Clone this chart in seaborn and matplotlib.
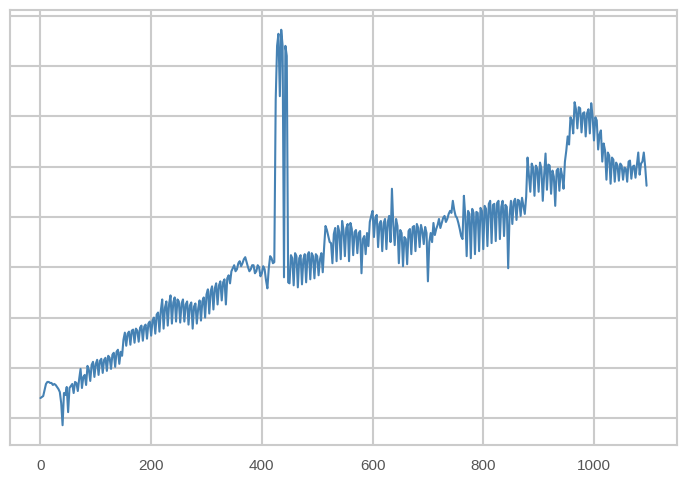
import matplotlib
matplotlib.use("Agg")
import matplotlib.pyplot as plt
from matplotlib.ticker import MultipleLocator
import numpy as np
import pandas as pd
import seaborn as sns

# readings every 2.5 steps, split by stretch of the series
start = [14.0, 14.2, 14.4, 15.6, 16.8, 17.2, 17.2, 17.0, 17.0, 16.6,
         16.8, 16.6, 16.2, 15.8, 15.2, 13.0, 8.6, 15.0, 14.6, 16.2,
         11.2, 16.0]
early = [16.4, 16.8, 15.0, 17.2, 17.0, 15.4, 17.8, 19.8, 16.0, 18.2,
         18.6, 16.6, 20.4, 19.6, 17.4, 20.6, 21.2, 18.2, 20.8, 21.6,
         18.6, 21.4, 21.8, 19.0, 21.6, 22.0, 19.4, 22.4, 22.0, 19.8,
         22.6, 23.0, 20.2, 23.2, 23.6, 20.8, 23.2, 22.4]
climb = [25.6, 27.0, 24.4, 26.8, 27.2, 24.6, 27.4, 27.6, 25.0, 27.8,
         27.4, 25.2, 28.0, 28.4, 25.4, 28.2, 28.6, 25.8, 28.8, 29.2,
         26.4, 29.4, 30.0, 26.8, 30.6, 31.0, 27.2, 31.4, 33.6, 27.8,
         32.0, 33.2, 28.4, 32.8, 34.4, 28.8, 33.0, 34.0, 29.2, 33.6,
         33.2, 29.0, 32.8, 33.6, 29.2, 32.6, 33.2, 28.6, 32.4, 33.0,
         27.8, 32.2, 32.8, 28.8, 31.8, 33.4, 29.4, 33.2, 34.0, 30.0,
         34.6, 35.6, 30.8, 35.2, 36.2, 31.6, 35.8, 36.8, 32.6, 36.4,
         37.2, 33.4, 37.0, 37.6, 32.6, 37.8, 38.4, 36.8]
plateau = [39.2, 39.8, 40.4, 39.2, 39.6, 40.8, 41.2, 40.2, 40.8, 41.6,
           42.0, 41.0, 40.0, 39.2, 39.6, 40.4, 40.4, 38.8, 39.2, 40.4,
           40.0, 38.2, 38.8, 40.2, 39.6, 37.4, 35.8, 39.8, 42.2, 41.8,
           40.8]
spike = [41.0, 73.2, 84.0, 86.4, 74.0, 87.2, 84.0, 38.0, 84.0, 82.0,
         37.0]
after_spike = [36.8, 42.4, 41.8, 36.4, 42.8, 42.2, 36.0, 41.8, 42.4, 36.6,
               41.6, 42.6, 37.0, 42.4, 43.0, 37.6, 42.8, 42.2, 37.8, 42.6,
               42.2, 38.4, 41.6, 42.8, 39.0, 44.0]
mid = [48.2, 47.4, 46.2, 45.0, 44.8, 40.8, 46.6, 47.8, 41.2, 48.2,
       47.0, 41.6, 49.2, 47.4, 42.2, 47.8, 48.6, 41.2, 48.8, 47.6,
       42.4, 47.0, 47.4, 42.8, 46.8, 47.2, 38.8, 45.6, 46.2, 42.6,
       46.8, 44.2, 49.0, 50.2]
mid2 = [51.2, 46.0, 49.8, 50.4, 44.0, 48.6, 49.2, 43.2, 48.8, 49.6,
        43.6, 49.0, 50.2, 45.0, 55.6, 48.4, 44.4, 49.6, 48.2, 40.8,
        47.4, 46.8, 40.2, 46.0, 45.6, 40.6, 47.2, 47.6, 42.6, 48.0,
        48.2, 43.2, 48.6, 47.8, 44.0, 48.4, 47.2, 44.6, 48.0, 46.8,
        37.2, 45.0]
smooth = [46.8, 45.0, 48.8, 46.4, 47.6, 48.4, 49.6, 47.8, 48.8, 49.8,
          50.2, 49.0, 49.6, 50.6, 51.2, 50.8, 53.2, 51.4, 50.2, 49.8,
          48.8, 47.6, 46.2, 45.6]
wide = [54.2, 50.2, 42.2, 51.2, 50.6, 41.8, 51.6, 50.8, 42.6, 51.0,
        50.8, 43.2, 51.8, 51.2, 43.6, 52.2, 51.6, 44.2, 52.6, 53.2,
        44.8, 52.4, 52.6, 45.2, 52.8, 53.2, 45.6, 52.0, 53.2, 46.2,
        52.4, 52.0, 39.8, 50.4, 53.2, 48.6, 53.0, 53.6, 49.4, 53.4,
        53.2, 50.2, 53.8, 52.2, 50.6, 54.0]
upper = [61.8, 58.2, 55.0, 60.6, 59.8, 54.2, 60.2, 59.6, 55.0, 60.8,
         59.6, 53.2, 58.4, 62.6, 55.4, 60.4, 60.2, 54.6, 59.2, 58.0,
         52.2, 59.2, 59.6, 55.2, 59.6, 58.2, 55.6, 61.0]
peak = [63.2, 66.0, 64.4, 69.8, 69.2, 66.6, 72.8, 71.4, 67.6, 71.8,
        71.6, 66.8, 70.6, 70.8, 66.0, 70.6, 71.4, 66.6, 72.6, 70.0,
        65.2, 69.8, 69.2, 63.4]
tail = [66.4, 67.2, 61.0, 64.6, 63.2, 57.4, 62.8, 62.2, 56.6, 61.8,
        61.4, 57.0, 60.8, 60.2, 57.2, 60.6, 60.2, 57.4, 59.8, 59.6,
        57.0, 61.0, 61.2, 57.6, 60.0, 60.2, 57.8, 60.4, 62.8, 58.4,
        60.6, 61.0, 62.8, 60.0, 56.2]

x_ticks = [0, 200, 400, 600, 800, 1000]

value = (start + early + climb + plateau + spike + after_spike + mid + mid2
         + smooth + wide + upper + peak + tail)
df = pd.DataFrame({"step": np.arange(len(value)) * 2.5, "value": value})

sns.set_style("whitegrid", {
    "grid.color": "#cbcbcb",
    "axes.edgecolor": "#cbcbcb",
})
plt.rcParams["font.family"] = ["Liberation Sans", "DejaVu Sans"]

fig, ax = plt.subplots(figsize=(6.89, 4.83), dpi=100)
fig.subplots_adjust(left=0.0145, right=0.9826, bottom=0.079, top=0.979)

sns.lineplot(data=df, x="step", y="value", ax=ax, color="#4682b4", linewidth=1.5)

ax.set_xticks(x_ticks)
ax.yaxis.set_major_locator(MultipleLocator(10))
ax.set_xlim(-55, 1150)
ax.set_ylim(4.7, 91.1)
ax.tick_params(axis="y", labelleft=False, length=0)
ax.tick_params(axis="x", length=0, labelsize=11, labelcolor="#555555", pad=10)
ax.grid(True, linewidth=1.5)
for s in ax.spines.values():
    s.set_linewidth(1.5)
ax.set_xlabel("")
ax.set_ylabel("")

fig.savefig("out.png", dpi=100)
